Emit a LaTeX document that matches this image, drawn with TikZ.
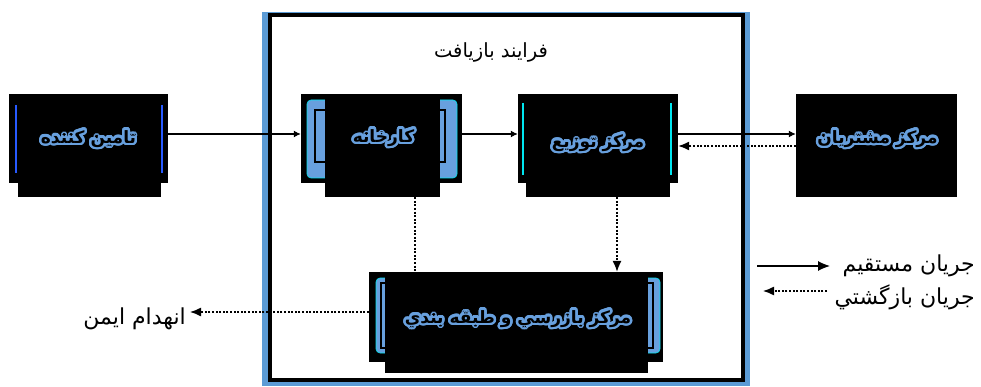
\documentclass[tikz,border=0pt]{standalone}
\usepackage{fontspec}
\usepackage{contour}
\usetikzlibrary{arrows.meta}
\TeXXeTstate=1
\newfontfamily\arabicfont[Script=Arabic]{DejaVu Sans}
\definecolor{frameblue}{RGB}{91,155,213}
\definecolor{glowblue}{RGB}{104,160,222}
\definecolor{brightblue}{RGB}{40,90,255}
\definecolor{cyanedge}{RGB}{0,230,240}
\contourlength{2.5pt}
\contournumber{24}
\newcommand{\glowtxt}[1]{\contour{glowblue}{\arabicfont\bfseries\beginR #1\endR}}
\newcommand{\plaintxt}[1]{{\arabicfont\beginR #1\endR}}
\pgfdeclarelayer{framelayer}
\pgfdeclarelayer{connlayer}
\pgfsetlayers{framelayer,connlayer,main}
\tikzset{
  blackbox/.style={fill=black, draw=none, inner sep=0pt},
  boxtext/.style={inner sep=0pt, font=\fontsize{17}{20}\selectfont},
  plaintext/.style={inner sep=0pt, font=\fontsize{22}{26}\selectfont},
  deco/.style={fill=glowblue, draw=cyanedge, line width=0.6pt, rounded corners=4pt},
  bracket/.style={draw=black, line width=1.2pt},
  sideline/.style={draw=brightblue, line width=1.2pt},
  flow/.style={draw=black, line width=1.2pt, -{Latex[length=7pt,width=7pt]}},
  backflow/.style={draw=black, line width=1.3pt, dash pattern=on 2pt off 1.6pt, -{Latex[length=11pt,width=9pt]}},
  backplain/.style={draw=black, line width=1.3pt, dash pattern=on 2pt off 1.6pt},
  legflow/.style={draw=black, line width=1.2pt, -{Latex[length=12pt,width=10pt]}},
}
\begin{document}
\begin{tikzpicture}[x=1pt,y=-1pt]
\useasboundingbox (0,0) rectangle (981,387);
\begin{pgfonlayer}{framelayer}
  \fill[frameblue] (262,12) rectangle (750,386);
  \draw[black, line width=4pt, fill=white] (269.5,15) rectangle (742.5,380);
\end{pgfonlayer}
\node[plaintext, font=\fontsize{19.5}{23}\selectfont] (title) at (491,52) {\plaintxt{فرايند بازيافت}};

% supplier
\node[blackbox, minimum width=159pt, minimum height=89pt] (sup) at (88.5,138.5) {};
\draw[sideline] (16,105) -- (16,173);
\draw[sideline] (162,105) -- (162,173);
\node[blackbox, minimum width=143pt, minimum height=103pt] (supL) at (89.5,145.5) {};
\node[boxtext] (supT) at (88.5,140) {\glowtxt{تامين کننده}};

% factory
\node[blackbox, minimum width=161pt, minimum height=89pt] (fac) at (381.5,138.5) {};
\draw[deco] (307,100) rectangle (457,178);
\draw[bracket] (325,110) -- (315,110) -- (315,162) -- (325,162);
\draw[bracket] (440,110) -- (445,110) -- (445,162) -- (440,162);
\node[blackbox, minimum width=115pt, minimum height=103pt] (facL) at (382.5,145.5) {};
\node[boxtext] (facT) at (383.5,139) {\glowtxt{کارخانه}};

% distribution
\node[blackbox, minimum width=160pt, minimum height=89pt] (dist) at (598,138.5) {};
\draw[draw=cyanedge, line width=1.2pt] (523,103) -- (523,175);
\draw[draw=cyanedge, line width=1.2pt] (671,103) -- (671,175);
\node[blackbox, minimum width=144pt, minimum height=103pt] (distL) at (598,145.5) {};
\node[boxtext] (distT) at (598,144) {\glowtxt{مرکز توزيع}};

% customers
\node[blackbox, minimum width=161pt, minimum height=103pt] (cust) at (876.5,145.5) {};
\node[boxtext] (custT) at (877.5,140) {\glowtxt{مرکز مشتريان}};

% inspection
\node[blackbox, minimum width=294pt, minimum height=90pt] (insp) at (516,317) {};
\draw[deco] (376,278) rectangle (660,353);
\draw[bracket] (385,283) -- (381,283) -- (381,348) -- (385,348);
\draw[bracket] (648,283) -- (653,283) -- (653,348) -- (648,348);
\node[blackbox, minimum width=263pt, minimum height=101pt] (inspL) at (516.5,322.5) {};
\node[boxtext] (inspT) at (518,320) {\glowtxt{مرکز بازرسي و طبقه بندي}};

% safe disposal
\node[plaintext, anchor=east] (dest) at (186,319) {\plaintxt{انهدام ايمن}};
\coordinate (destTip) at (190,312);

% legend
\coordinate (legS1) at (757,266);
\coordinate (legE1) at (830,266);
\coordinate (legS2) at (827,291);
\coordinate (legE2) at (763,291);
\node[plaintext, anchor=east] (leg1) at (975,266) {\plaintxt{جريان مستقيم}};
\node[plaintext, anchor=east] (leg2) at (975,297) {\plaintxt{جريان بازگشتي}};

\begin{pgfonlayer}{connlayer}
  \draw[flow] ([yshift=4.5pt]sup.east) -- ([yshift=4.5pt]fac.west);
  \draw[flow] ([yshift=4.5pt]fac.east) -- ([yshift=4.5pt]dist.west);
  \draw[flow] ([yshift=4.5pt]dist.east) -- ([yshift=11.5pt]cust.west);
  \draw[backflow] ([yshift=-0.5pt]cust.west) -- ([yshift=-7.5pt]dist.east);
  \draw[backplain] ([xshift=32.5pt]facL.south) -- ([xshift=32.5pt]facL.south |- insp.north);
  \draw[backflow] ([xshift=19pt]distL.south) -- ([xshift=19pt]distL.south |- insp.north);
  \draw[backflow] ([yshift=5pt]insp.west) -- (destTip);
  \draw[legflow] (legS1) -- (legE1);
  \draw[backflow] (legS2) -- (legE2);
\end{pgfonlayer}
\end{tikzpicture}
\end{document}
